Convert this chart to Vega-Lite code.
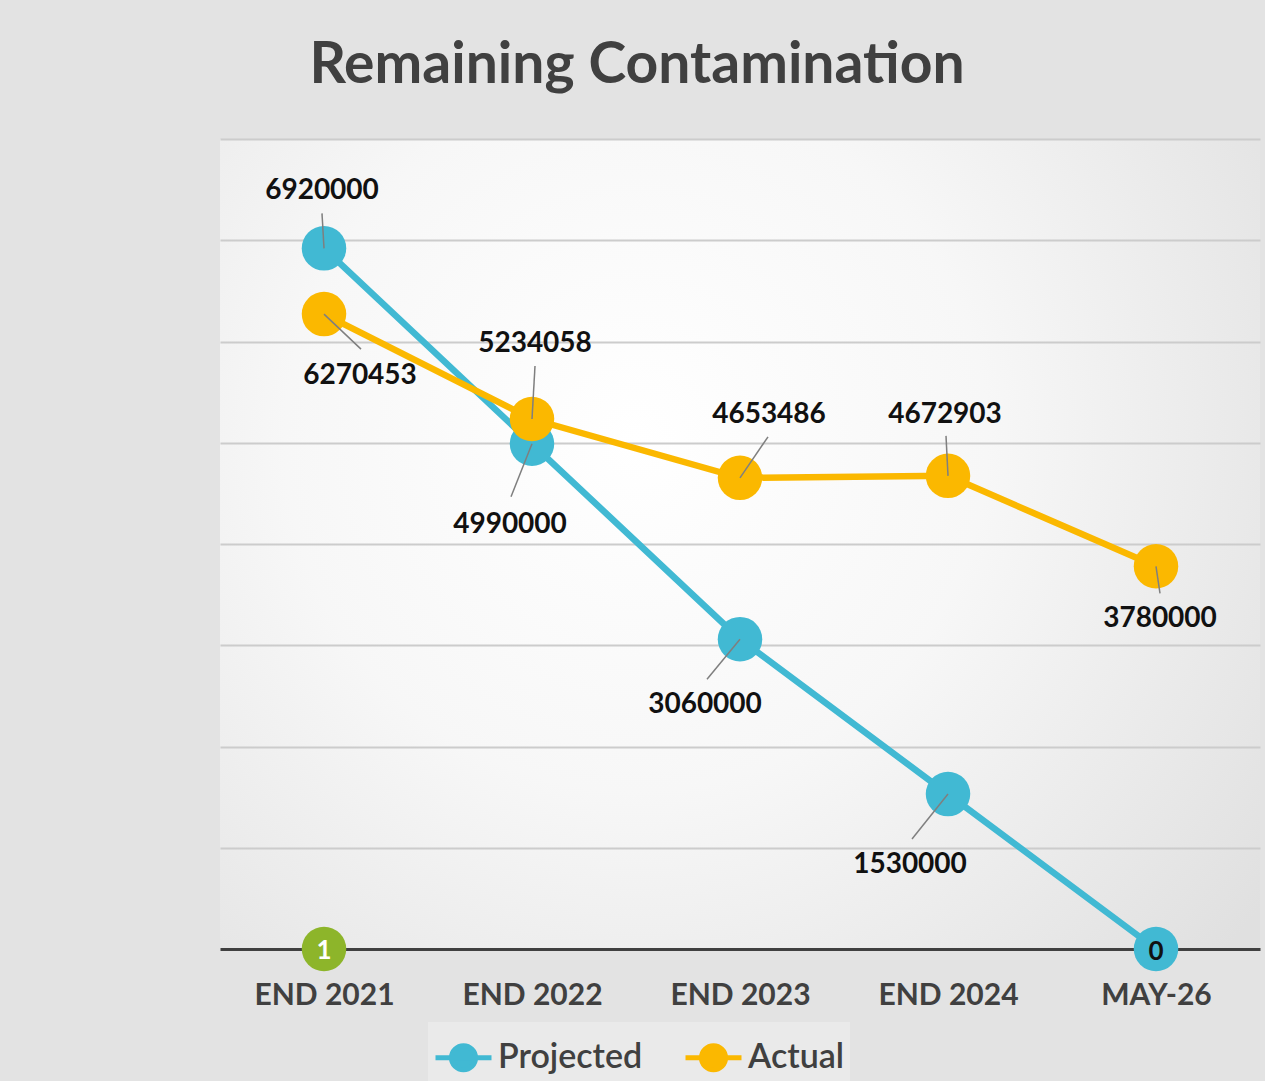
{
  "$schema": "https://vega.github.io/schema/vega-lite/v6.json",
  "width": 1040,
  "height": 810,
  "autosize": {"type": "none"},
  "padding": {"left": 220, "top": 139, "right": 5, "bottom": 132},
  "background": "#e3e3e3",
  "title": {
    "text": "Remaining Contamination",
    "font": "Lato",
    "fontSize": 57,
    "fontWeight": "bold",
    "color": "#404040",
    "anchor": "middle",
    "frame": "group",
    "dx": -103,
    "offset": 44
  },
  "data": {
    "values": [
      {"cat": "END 2021", "series": "Projected", "value": 6920000},
      {"cat": "END 2022", "series": "Projected", "value": 4990000},
      {"cat": "END 2023", "series": "Projected", "value": 3060000},
      {"cat": "END 2024", "series": "Projected", "value": 1530000},
      {"cat": "MAY-26", "series": "Projected", "value": 0},
      {"cat": "END 2021", "series": "Actual", "value": 6270453},
      {"cat": "END 2022", "series": "Actual", "value": 5234058},
      {"cat": "END 2023", "series": "Actual", "value": 4653486},
      {"cat": "END 2024", "series": "Actual", "value": 4672903},
      {"cat": "MAY-26", "series": "Actual", "value": 3780000},
      {"cat": "END 2021", "series": "Other", "value": 1}
    ]
  },
  "encoding": {
    "x": {
      "field": "cat",
      "type": "ordinal",
      "sort": ["END 2021", "END 2022", "END 2023", "END 2024", "MAY-26"],
      "scale": {"type": "point", "padding": 0.5},
      "title": null,
      "axis": {
        "domainColor": "#404040",
        "domainWidth": 3,
        "ticks": false,
        "grid": false,
        "labelAngle": 0,
        "labelFont": "Lato",
        "labelFontSize": 30,
        "labelFontWeight": "bold",
        "labelColor": "#404040",
        "labelPadding": 31
      }
    },
    "y": {
      "field": "value",
      "type": "quantitative",
      "scale": {"domain": [0, 8000000], "nice": false},
      "title": null,
      "axis": {
        "values": [1000000, 2000000, 3000000, 4000000, 5000000, 6000000, 7000000, 8000000],
        "labels": false,
        "ticks": false,
        "domain": false,
        "grid": true,
        "gridColor": "#cccccc",
        "gridWidth": 2
      }
    }
  },
  "layer": [
    {
      "transform": [{"filter": "datum.series != 'Other'"}],
      "mark": {"type": "line", "strokeWidth": 6.5},
      "encoding": {
        "color": {
          "field": "series",
          "type": "nominal",
          "scale": {"domain": ["Projected", "Actual"], "range": ["#41B9D3", "#FBB800"]}
        }
      }
    },
    {
      "transform": [{"filter": "datum.series != 'Other'"}],
      "mark": {"type": "point", "filled": true, "opacity": 1, "size": 1980, "shape": "circle"},
      "encoding": {
        "color": {
          "field": "series",
          "type": "nominal",
          "scale": {"domain": ["Projected", "Actual"], "range": ["#41B9D3", "#FBB800"]},
          "legend": {
            "orient": "none",
            "legendX": 208,
            "legendY": 883,
            "direction": "horizontal",
            "title": null,
            "fillColor": "#eaeaea",
            "padding": 5,
            "symbolType": "M-1,0L1,0M0.43,0A0.43,0.43,0,1,1,-0.43,0A0.43,0.43,0,1,1,0.43,0Z",
            "symbolSize": 3136,
            "symbolStrokeWidth": 5,
            "labelFont": "Lato",
            "labelFontSize": 34,
            "labelFontWeight": 600,
            "labelColor": "#404040",
            "labelOffset": 4,
            "columnPadding": 32,
            "encode": {
              "symbols": {
                "update": {
                  "fill": {"scale": "color", "field": "value"},
                  "stroke": {"scale": "color", "field": "value"},
                  "strokeWidth": {"value": 5}
                }
              }
            }
          }
        }
      }
    },
    {
      "transform": [{"filter": "datum.series == 'Other'"}],
      "mark": {"type": "point", "filled": true, "opacity": 1, "size": 1980, "shape": "circle", "color": "#8DB52A"}
    },
    {
      "transform": [{"filter": "datum.series == 'Other'"}],
      "mark": {"type": "text", "font": "Lato", "fontSize": 26, "fontWeight": "bold", "color": "#ffffff", "dy": 2},
      "encoding": {"text": {"field": "value", "type": "quantitative", "format": "d"}}
    },
    {
      "transform": [{"filter": "datum.series == 'Projected' && datum.cat == 'MAY-26'"}],
      "mark": {"type": "text", "font": "Lato", "fontSize": 26, "fontWeight": "bold", "color": "#111111", "dy": 3},
      "encoding": {"text": {"field": "value", "type": "quantitative", "format": "d"}}
    },
    {
      "transform": [{"filter": "datum.series == 'Projected' && datum.cat == 'END 2021'"}],
      "mark": {"type": "rule", "color": "#7f7f7f", "strokeWidth": 1.5, "x2Offset": -2, "y2Offset": -35},
      "encoding": {"x2": {"field": "cat"}, "y2": {"field": "value"}}
    },
    {
      "transform": [{"filter": "datum.series == 'Projected' && datum.cat == 'END 2022'"}],
      "mark": {"type": "rule", "color": "#7f7f7f", "strokeWidth": 1.5, "x2Offset": -21, "y2Offset": 53},
      "encoding": {"x2": {"field": "cat"}, "y2": {"field": "value"}}
    },
    {
      "transform": [{"filter": "datum.series == 'Projected' && datum.cat == 'END 2023'"}],
      "mark": {"type": "rule", "color": "#7f7f7f", "strokeWidth": 1.5, "x2Offset": -33, "y2Offset": 40},
      "encoding": {"x2": {"field": "cat"}, "y2": {"field": "value"}}
    },
    {
      "transform": [{"filter": "datum.series == 'Projected' && datum.cat == 'END 2024'"}],
      "mark": {"type": "rule", "color": "#7f7f7f", "strokeWidth": 1.5, "x2Offset": -36, "y2Offset": 45},
      "encoding": {"x2": {"field": "cat"}, "y2": {"field": "value"}}
    },
    {
      "transform": [{"filter": "datum.series == 'Actual' && datum.cat == 'END 2021'"}],
      "mark": {"type": "rule", "color": "#7f7f7f", "strokeWidth": 1.5, "x2Offset": 37, "y2Offset": 35},
      "encoding": {"x2": {"field": "cat"}, "y2": {"field": "value"}}
    },
    {
      "transform": [{"filter": "datum.series == 'Actual' && datum.cat == 'END 2022'"}],
      "mark": {"type": "rule", "color": "#7f7f7f", "strokeWidth": 1.5, "x2Offset": 3, "y2Offset": -53},
      "encoding": {"x2": {"field": "cat"}, "y2": {"field": "value"}}
    },
    {
      "transform": [{"filter": "datum.series == 'Actual' && datum.cat == 'END 2023'"}],
      "mark": {"type": "rule", "color": "#7f7f7f", "strokeWidth": 1.5, "x2Offset": 28, "y2Offset": -41},
      "encoding": {"x2": {"field": "cat"}, "y2": {"field": "value"}}
    },
    {
      "transform": [{"filter": "datum.series == 'Actual' && datum.cat == 'END 2024'"}],
      "mark": {"type": "rule", "color": "#7f7f7f", "strokeWidth": 1.5, "x2Offset": -2, "y2Offset": -40},
      "encoding": {"x2": {"field": "cat"}, "y2": {"field": "value"}}
    },
    {
      "transform": [{"filter": "datum.series == 'Actual' && datum.cat == 'MAY-26'"}],
      "mark": {"type": "rule", "color": "#7f7f7f", "strokeWidth": 1.5, "x2Offset": 4, "y2Offset": 27},
      "encoding": {"x2": {"field": "cat"}, "y2": {"field": "value"}}
    },
    {
      "transform": [{"filter": "datum.series == 'Projected' && datum.cat == 'END 2021'"}],
      "mark": {"type": "text", "font": "Lato", "fontSize": 28, "fontWeight": "bold", "color": "#111111", "dx": -2, "dy": -57},
      "encoding": {"text": {"field": "value", "type": "quantitative", "format": "d"}}
    },
    {
      "transform": [{"filter": "datum.series == 'Projected' && datum.cat == 'END 2022'"}],
      "mark": {"type": "text", "font": "Lato", "fontSize": 28, "fontWeight": "bold", "color": "#111111", "dx": -22, "dy": 81},
      "encoding": {"text": {"field": "value", "type": "quantitative", "format": "d"}}
    },
    {
      "transform": [{"filter": "datum.series == 'Projected' && datum.cat == 'END 2023'"}],
      "mark": {"type": "text", "font": "Lato", "fontSize": 28, "fontWeight": "bold", "color": "#111111", "dx": -35, "dy": 66},
      "encoding": {"text": {"field": "value", "type": "quantitative", "format": "d"}}
    },
    {
      "transform": [{"filter": "datum.series == 'Projected' && datum.cat == 'END 2024'"}],
      "mark": {"type": "text", "font": "Lato", "fontSize": 28, "fontWeight": "bold", "color": "#111111", "dx": -38, "dy": 71},
      "encoding": {"text": {"field": "value", "type": "quantitative", "format": "d"}}
    },
    {
      "transform": [{"filter": "datum.series == 'Actual' && datum.cat == 'END 2021'"}],
      "mark": {"type": "text", "font": "Lato", "fontSize": 28, "fontWeight": "bold", "color": "#111111", "dx": 36, "dy": 62},
      "encoding": {"text": {"field": "value", "type": "quantitative", "format": "d"}}
    },
    {
      "transform": [{"filter": "datum.series == 'Actual' && datum.cat == 'END 2022'"}],
      "mark": {"type": "text", "font": "Lato", "fontSize": 28, "fontWeight": "bold", "color": "#111111", "dx": 3, "dy": -75},
      "encoding": {"text": {"field": "value", "type": "quantitative", "format": "d"}}
    },
    {
      "transform": [{"filter": "datum.series == 'Actual' && datum.cat == 'END 2023'"}],
      "mark": {"type": "text", "font": "Lato", "fontSize": 28, "fontWeight": "bold", "color": "#111111", "dx": 29, "dy": -63},
      "encoding": {"text": {"field": "value", "type": "quantitative", "format": "d"}}
    },
    {
      "transform": [{"filter": "datum.series == 'Actual' && datum.cat == 'END 2024'"}],
      "mark": {"type": "text", "font": "Lato", "fontSize": 28, "fontWeight": "bold", "color": "#111111", "dx": -3, "dy": -61},
      "encoding": {"text": {"field": "value", "type": "quantitative", "format": "d"}}
    },
    {
      "transform": [{"filter": "datum.series == 'Actual' && datum.cat == 'MAY-26'"}],
      "mark": {"type": "text", "font": "Lato", "fontSize": 28, "fontWeight": "bold", "color": "#111111", "dx": 4, "dy": 53},
      "encoding": {"text": {"field": "value", "type": "quantitative", "format": "d"}}
    }
  ],
  "config": {
    "view": {
      "stroke": null,
      "fill": {
        "gradient": "radial",
        "x1": 0.4, "y1": 0.4, "r1": 0,
        "x2": 0.4, "y2": 0.4, "r2": 0.75,
        "stops": [
          {"offset": 0, "color": "#ffffff"},
          {"offset": 0.45, "color": "#f7f7f7"},
          {"offset": 1, "color": "#e0e0e0"}
        ]
      }
    }
  }
}
